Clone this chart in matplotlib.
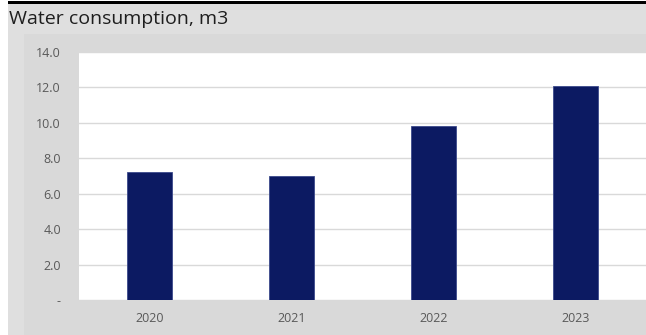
import matplotlib
matplotlib.use('Agg')
import matplotlib.pyplot as plt
from matplotlib.patches import Rectangle
from matplotlib.ticker import FuncFormatter

years = ['2020', '2021', '2022', '2023']
consumption = [7.2, 7.0, 9.8, 12.1]
y_ticks = [0, 2, 4, 6, 8, 10, 12, 14]

W, H = 646, 335
plt.rcParams['font.family'] = ['Open Sans', 'DejaVu Sans']

fig = plt.figure(figsize=(W / 100, H / 100), dpi=100)


def px_rect(x0, y0, x1, y1, color):
    # rectangle given in pixels from the top-left corner
    fig.add_artist(Rectangle((x0 / W, 1 - y1 / H), (x1 - x0) / W, (y1 - y0) / H,
                             transform=fig.transFigure, facecolor=color,
                             edgecolor='none', zorder=0))


px_rect(8, 4, W, H, '#dfdfdf')
px_rect(24, 34, W, H, '#d9d9d9')
px_rect(8, 1.5, W, 4, '#000000')

fig.text(9 / W, 1 - 19 / H, 'Water consumption, m3', fontsize=14,
         color='#1e1e1e', ha='left', va='center')

ax = fig.add_axes([79 / W, 1 - 300 / H, (W - 79) / W, (300 - 52) / H])
ax.set_facecolor('white')

ax.bar(range(len(years)), consumption, width=0.317, color='#0c1a62',
       edgecolor='#3c4a8c', linewidth=0.6, zorder=3)

ax.set_xlim(-0.5, len(years) - 0.5)
ax.set_ylim(0, 14)
ax.set_yticks(y_ticks)
ax.yaxis.set_major_formatter(FuncFormatter(lambda v, p: '-' if v == 0 else f'{v:.1f}'))
ax.set_xticks(range(len(years)))
ax.set_xticklabels(years)

ax.grid(axis='y', color='#d9d9d9', linewidth=1.0, zorder=0)
ax.set_axisbelow(True)
for s in ax.spines.values():
    s.set_visible(False)
ax.tick_params(length=0, labelsize=9, colors='#595959')
ax.tick_params(axis='y', pad=13)
ax.tick_params(axis='x', pad=9)

fig.savefig('out.png', dpi=100)
